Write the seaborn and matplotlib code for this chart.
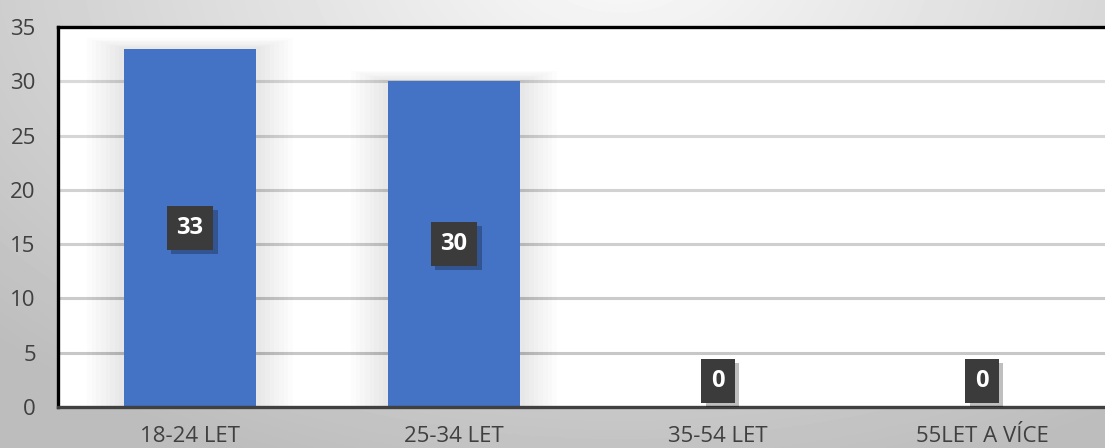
import numpy as np
import pandas as pd
import matplotlib
matplotlib.use("Agg")
import matplotlib.pyplot as plt
import matplotlib.patheffects as pe
import seaborn as sns

categories = ["18-24 LET", "25-34 LET", "35-54 LET", "55LET A VÍCE"]
values = [33, 30, 0, 0]
y_ticks = [0, 5, 10, 15, 20, 25, 30, 35]

df = pd.DataFrame({"kategorie": categories, "pocet": values})

sns.set_theme(style="white")
plt.rcParams["font.family"] = ["Open Sans", "DejaVu Sans"]

W, H = 1105, 448
fig = plt.figure(figsize=(W / 100, H / 100), dpi=100)

# soft grey radial backdrop behind the chart
bg = fig.add_axes([0, 0, 1, 1], zorder=-10)
yy, xx = np.mgrid[0:H, 0:W]
r = np.sqrt((xx - 620) ** 2 + ((yy + 40) * 1.6) ** 2)
shade = np.clip(0.98 - 0.22 * (r / 800), 0.74, 0.98)
bg.imshow(shade, cmap="gray", vmin=0, vmax=1, aspect="auto",
          extent=[0, W, H, 0])
bg.set_axis_off()

left, right, bottom, top = 58, 1114, 407, 27
ax = fig.add_axes([left / W, 1 - bottom / H, (right - left) / W, (bottom - top) / H])
ax.set_facecolor("white")

# grid lines, slightly darker toward the baseline
for t in y_ticks[1:-1]:
    g = 0.87 - 0.015 * (7 - t / 5)
    ax.axhline(t, color=(g, g, g), lw=2.2, zorder=0.5)

# faint glow around the bars
for i, v in enumerate(values):
    if v > 0:
        for k in range(8):
            w = 0.5 + 0.035 * (k + 1)
            ax.bar(i, v + 0.12 * (k + 1), width=w, color="black", alpha=0.012,
                   zorder=0.8, linewidth=0)

sns.barplot(data=df, x="kategorie", y="pocet", color="#4472C4", width=0.5,
            saturation=1, ax=ax, zorder=2, linewidth=0)

ax.set_xlim(-0.5, 3.5)
ax.set_ylim(0, 35)
ax.set_yticks(y_ticks)
ax.set_xlabel("")
ax.set_ylabel("")

for side in ["left", "top"]:
    ax.spines[side].set_color("black")
    ax.spines[side].set_linewidth(2.4)
ax.spines["bottom"].set_color("#404040")
ax.spines["bottom"].set_linewidth(2.4)
ax.spines["right"].set_visible(False)

ax.tick_params(axis="y", length=0, pad=16, labelsize=16, labelcolor="#404040")
ax.tick_params(axis="x", which="major", length=0, pad=14, labelsize=16,
               labelcolor="#404040")
ax.set_xticks(np.arange(-0.5, len(categories) + 0.5, 1), minor=True)
ax.tick_params(axis="x", which="minor", length=6, width=2.4, color="#404040",
               direction="out")

# value labels in dark boxes with a soft drop shadow
for i, v in enumerate(values):
    ypos = max(v / 2, 2.4)
    t = ax.text(i, ypos, str(v), ha="center", va="center", fontsize=17,
                fontweight="bold", color="white", zorder=4,
                bbox=dict(boxstyle="square,pad=0.42", fc="#3b3b3b", ec="none"))
    t.get_bbox_patch().set_path_effects([
        pe.SimplePatchShadow(offset=(3, -3), shadow_rgbFace="black", alpha=0.25),
        pe.Normal(),
    ])

fig.savefig("out.png", dpi=100)
